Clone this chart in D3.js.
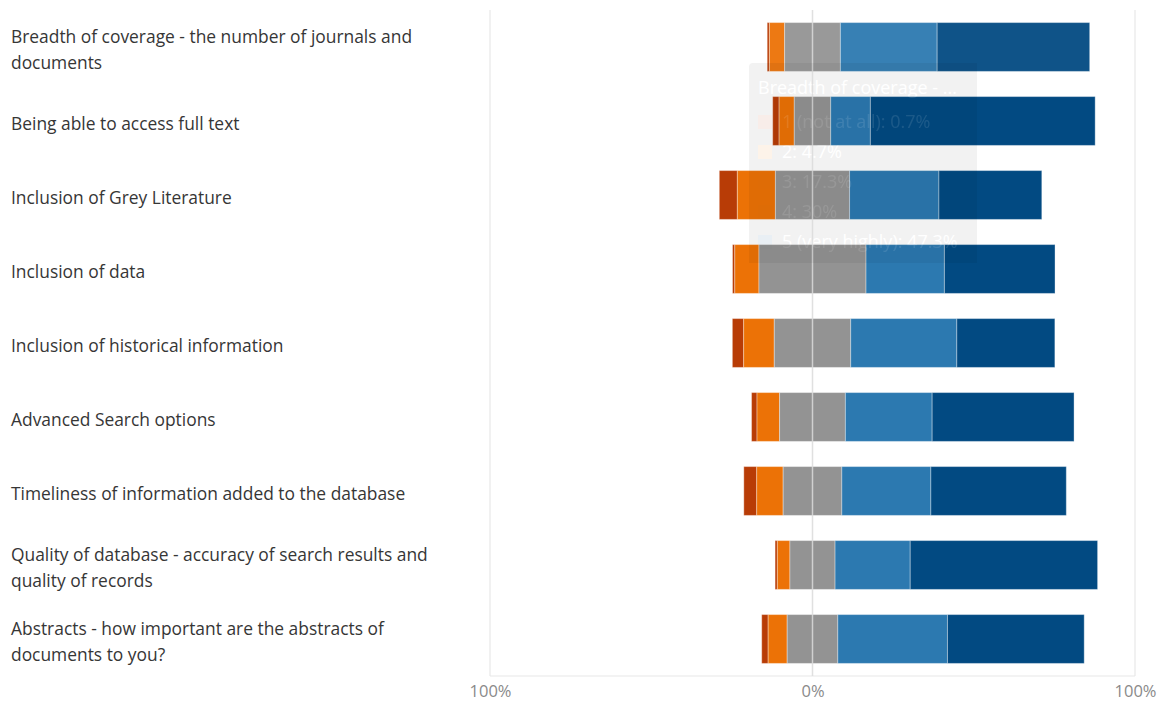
<!DOCTYPE html>
<html>
<head>
<meta charset="utf-8">
<script src="https://cdn.jsdelivr.net/npm/d3@7"></script>
<style>
  html, body { margin: 0; padding: 0; background: #fff; }
  svg { display: block; }
  text { font-family: "Open Sans", "Noto Sans", sans-serif; }
</style>
</head>
<body>
<svg id="chart" width="1160" height="702"></svg>
<script>
// Survey items (one bar each)
const categories = [
  "Breadth of coverage - the number of journals and documents",
  "Being able to access full text",
  "Inclusion of Grey Literature",
  "Inclusion of data",
  "Inclusion of historical information",
  "Advanced Search options",
  "Timeliness of information added to the database",
  "Quality of database - accuracy of search results and quality of records",
  "Abstracts - how important are the abstracts of documents to you?"
];

// Rating scale labels
const seriesNames = ["1 (not at all)", "2", "3", "4", "5 (very highly)"];

// Share of responses (%) per rating, one array per rating
const rating1 = [0.7, 2.0, 5.6, 0.7, 3.5, 1.7, 4.0, 0.7, 2.0];
const rating2 = [4.7, 4.7, 11.8, 7.5, 9.5, 7.0, 8.2, 3.9, 5.9];
const rating3 = [17.3, 11.3, 23.0, 33.2, 23.7, 20.4, 18.2, 14.0, 15.7];
const rating4 = [30.0, 12.3, 27.7, 24.3, 32.9, 26.9, 27.6, 23.3, 34.0];
const rating5 = [47.3, 69.7, 31.9, 34.3, 30.4, 44.0, 42.0, 58.1, 42.4];

// Axis tick values
const tickValues = [-100, 0, 100];

const seriesValues = [rating1, rating2, rating3, rating4, rating5];
const colors = ["#b83c06", "#ec7206", "#939393", "#2c79b0", "#024a82"];

const hoveredRow = 0;

const svg = d3.select("#chart");
const plot = { left: 490, right: 1135, top: 10, bottom: 676 };

const x = d3.scaleLinear().domain([-100, 100]).range([plot.left, plot.right]);
const y = d3.scaleBand().domain(categories).range([plot.top, plot.bottom])
  .paddingInner(0.34).paddingOuter(0.17);

// Diverging layout: the neutral rating is split across the zero line
const segments = [];
categories.forEach((cat, i) => {
  const vals = seriesValues.map(s => s[i]);
  let start = -(vals[0] + vals[1] + vals[2] / 2);
  vals.forEach((v, k) => {
    segments.push({ cat, row: i, k, x0: start, x1: start + v, value: v });
    start += v;
  });
});

// Frame lines
const frame = svg.append("g").attr("stroke", "#e8e8e8").attr("stroke-width", 1.2);
frame.append("line").attr("x1", plot.left).attr("x2", plot.left).attr("y1", plot.top).attr("y2", plot.bottom);
frame.append("line").attr("x1", plot.right).attr("x2", plot.right).attr("y1", plot.top).attr("y2", plot.bottom);
frame.append("line").attr("x1", plot.left).attr("x2", plot.right).attr("y1", plot.bottom).attr("y2", plot.bottom);

// Tooltip, lower layer: panel and opaque text (bars cover it)
const tip = { x: 749, y: 63, w: 228, h: 200 };
const tipRow = hoveredRow;
const tipTitle = categories[tipRow].split(" - ")[0] + " - ...";
const tipLines = seriesNames.map((n, k) => `${n}: ${seriesValues[k][tipRow]}%`);

function drawTip(g, under) {
  g.append("text").attr("x", tip.x + 9).attr("y", tip.y + 31)
    .attr("font-size", 18).attr("fill", "#fff").text(tipTitle);
  tipLines.forEach((t, k) => {
    const ly = tip.y + 65 + k * 30;
    g.append("rect").attr("x", tip.x + 9).attr("y", ly - 13).attr("width", 14).attr("height", 14)
      .attr("fill", under ? d3.interpolateRgb("#ffffff", colors[k])(0.08) : colors[k])
      .attr("fill-opacity", under ? 1 : 0.08);
    g.append("text").attr("x", tip.x + 33).attr("y", ly)
      .attr("font-size", 18).attr("fill", "#fff").text(t);
  });
}

const tipUnder = svg.append("g");
tipUnder.append("rect").attr("x", tip.x).attr("y", tip.y).attr("width", tip.w).attr("height", tip.h)
  .attr("rx", 4).attr("fill", "#f2f2f2");
drawTip(tipUnder, true);

// Bars
svg.append("g").selectAll("rect").data(segments).join("rect")
  .attr("x", d => x(d.x0))
  .attr("y", d => y(d.cat))
  .attr("width", d => x(d.x1) - x(d.x0))
  .attr("height", y.bandwidth())
  .attr("fill", d => colors[d.k])
  .attr("fill-opacity", d => d.row === hoveredRow ? 0.95 : 1)
  .attr("stroke", "rgba(255,255,255,0.35)")
  .attr("stroke-width", 1);

// Zero line
svg.append("line")
  .attr("x1", x(0)).attr("x2", x(0)).attr("y1", plot.top).attr("y2", plot.bottom)
  .attr("stroke", "#dadada").attr("stroke-width", 1.5).attr("stroke-opacity", 0.85);

// Tooltip, upper layer: faint tint over bars plus faint text
const clip = svg.append("clipPath").attr("id", "barClip");
clip.selectAll("rect").data(segments).join("rect")
  .attr("x", d => x(d.x0)).attr("y", d => y(d.cat))
  .attr("width", d => x(d.x1) - x(d.x0)).attr("height", y.bandwidth());
svg.append("rect").attr("x", tip.x).attr("y", tip.y).attr("width", tip.w).attr("height", tip.h)
  .attr("fill", "#000").attr("fill-opacity", 0.05).attr("clip-path", "url(#barClip)");
const tipOver = svg.append("g").attr("opacity", 0.1);
drawTip(tipOver, false);

// Category labels, wrapped to fit the label column
const labelG = svg.append("g");
const maxW = 445;
categories.forEach(cat => {
  const t = labelG.append("text").attr("x", 11).attr("font-size", 17.4).attr("fill", "#363636");
  const words = cat.split(" ");
  let lines = [], line = [];
  const probe = t.append("tspan");
  words.forEach(w => {
    line.push(w);
    probe.text(line.join(" "));
    if (probe.node().getComputedTextLength() > maxW && line.length > 1) {
      line.pop();
      lines.push(line.join(" "));
      line = [w];
    }
  });
  lines.push(line.join(" "));
  probe.remove();
  const cy = y(cat) + y.bandwidth() / 2;
  const lh = 26;
  const first = cy + 8.5 - (lines.length - 1) * lh / 2;
  lines.forEach((l, j) => {
    t.append("tspan").attr("x", 11).attr("y", first + j * lh).text(l);
  });
});

// Bottom axis
const axis = d3.axisBottom(x).tickValues(tickValues).tickSize(0).tickPadding(9)
  .tickFormat(d => Math.abs(d) + "%");
const ax = svg.append("g").attr("transform", `translate(0,${plot.bottom})`).call(axis);
ax.select(".domain").remove();
ax.selectAll("text").attr("font-size", 16.5).attr("fill", "#8a8a8a")
  .attr("font-family", "\"Open Sans\", \"Noto Sans\", sans-serif");
</script>
</body>
</html>
